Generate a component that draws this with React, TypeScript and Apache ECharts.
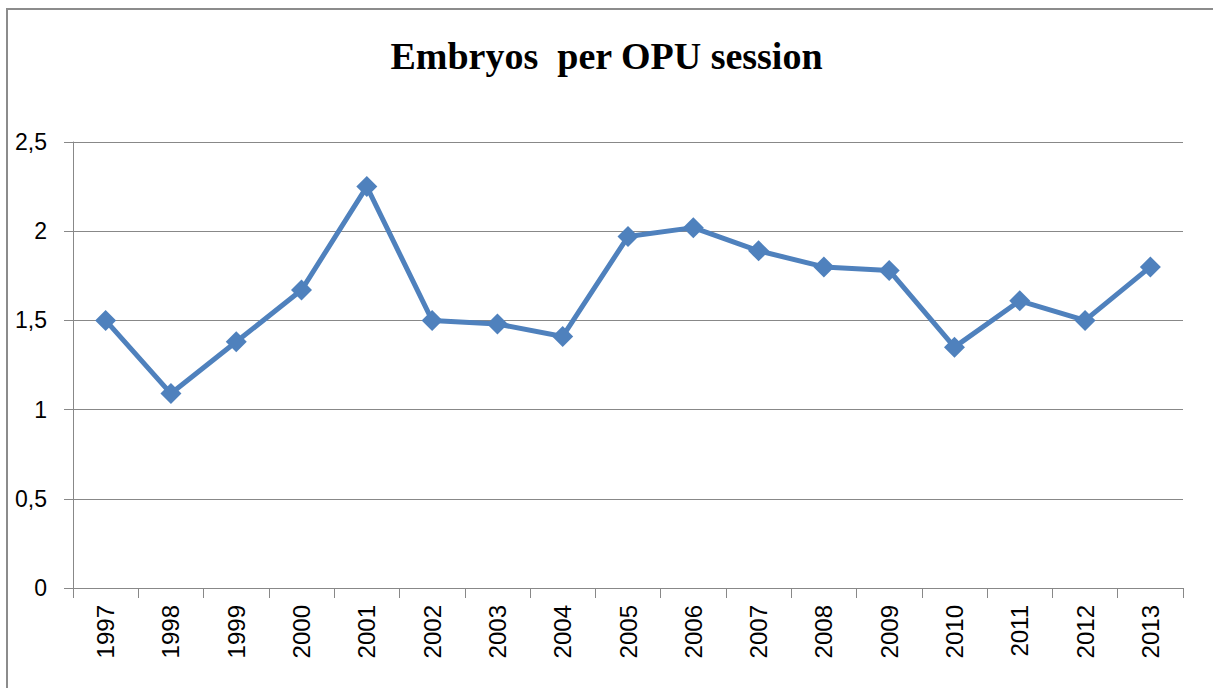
import React, { useEffect, useRef } from "react";
import * as echarts from "echarts";

const titleText = "Embryos  per OPU session";
const years = ["1997","1998","1999","2000","2001","2002","2003","2004","2005","2006","2007","2008","2009","2010","2011","2012","2013"];
const embryosPerSession = [1.5, 1.09, 1.38, 1.67, 2.25, 1.5, 1.48, 1.41, 1.97, 2.02, 1.89, 1.8, 1.78, 1.35, 1.61, 1.5, 1.8];
const yMin = 0;
const yMax = 2.5;
const yStep = 0.5;

export default function App() {
  const ref = useRef<HTMLDivElement>(null);
  useEffect(() => {
    if (!ref.current) return;
    const chart = echarts.init(ref.current, null, { renderer: "svg" });
    chart.setOption({
      animation: false,
      backgroundColor: "#ffffff",
      title: {
        text: titleText,
        left: "center",
        top: 32,
        textStyle: {
          fontFamily: "Liberation Serif",
          fontWeight: "bold",
          fontSize: 38,
          color: "#000000",
        },
      },
      graphic: [
        {
          type: "rect",
          shape: { x: 7, y: 9, width: 1300, height: 800 },
          style: { fill: "none", stroke: "#8c8c8c", lineWidth: 2 },
          silent: true,
        },
      ],
      grid: { left: 73, right: 30, top: 142, bottom: 100, containLabel: false },
      xAxis: {
        type: "category",
        data: years,
        boundaryGap: true,
        axisLine: { show: true, lineStyle: { color: "#888888", width: 1 } },
        axisTick: { show: true, length: 10, lineStyle: { color: "#888888" } },
        axisLabel: {
          rotate: 90,
          margin: 17,
          fontFamily: "Liberation Sans",
          fontSize: 24,
          color: "#000000",
        },
        splitLine: { show: false },
      },
      yAxis: {
        type: "value",
        min: yMin,
        max: yMax,
        interval: yStep,
        axisLine: { show: true, lineStyle: { color: "#888888", width: 1 } },
        axisTick: { show: true, length: 9, lineStyle: { color: "#888888" } },
        axisLabel: {
          margin: 26,
          fontFamily: "Liberation Sans",
          fontSize: 23,
          color: "#000000",
          formatter: (v: number) => String(v).replace(".", ","),
        },
        splitLine: { show: true, lineStyle: { color: "#888888", width: 1 } },
      },
      series: [
        {
          type: "line",
          data: embryosPerSession,
          symbol: "diamond",
          symbolSize: 21,
          lineStyle: { color: "#4f81bd", width: 5 },
          itemStyle: { color: "#4f81bd" },
        },
      ],
    });
    return () => chart.dispose();
  }, []);
  return (
    <div
      ref={ref}
      style={{ position: "fixed", left: 0, top: 0, width: 1213, height: 688 }}
    />
  );
}
